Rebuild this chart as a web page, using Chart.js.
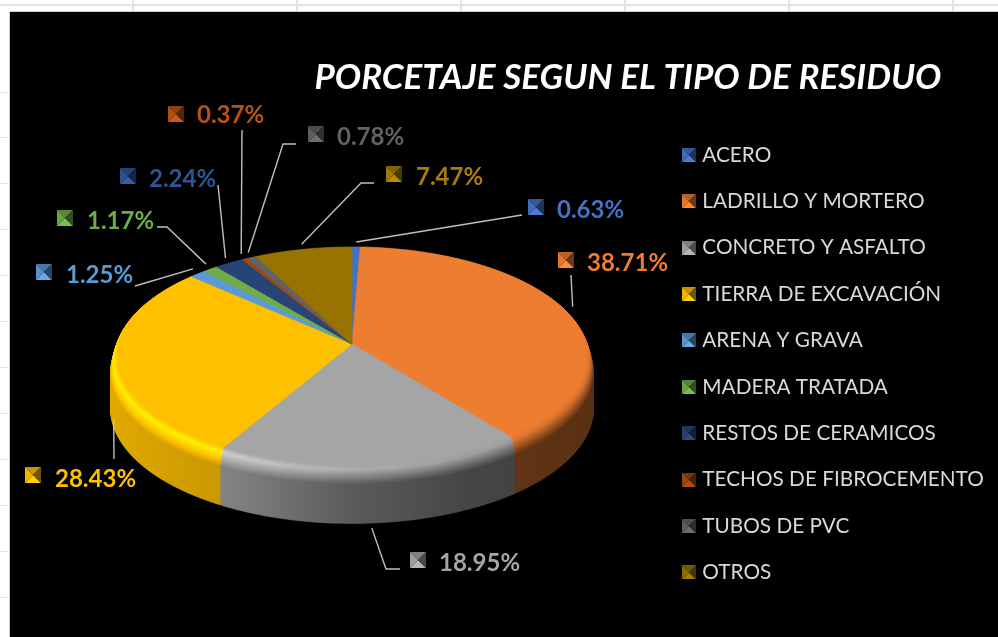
<!DOCTYPE html>
<html><head><meta charset="utf-8">
<style>
html,body{margin:0;padding:0;width:998px;height:637px;overflow:hidden;background:#fff}
#stage{position:absolute;left:10px;top:12px;width:988px;height:625px;background:#000;box-shadow:0 0 0 1px #cfcfcf}
canvas{display:block}
.g{position:absolute;background:#e3e3e3}
</style></head><body>
<div id="stage"><canvas id="c" width="988" height="625"></canvas></div>
<script src="https://cdn.jsdelivr.net/npm/chart.js@4"></script>
<script>
const categories=['ACERO','LADRILLO Y MORTERO','CONCRETO Y ASFALTO','TIERRA DE EXCAVACIÓN','ARENA Y GRAVA','MADERA TRATADA','RESTOS DE CERAMICOS','TECHOS DE FIBROCEMENTO','TUBOS DE PVC','OTROS'];
const values=[0.63,38.71,18.95,28.43,1.25,1.17,2.24,0.37,0.78,7.47];
const sliceColors=['#4472c4','#ed7d31','#a5a5a5','#ffc000','#5b9bd5','#70ad47','#264478','#9e480e','#636363','#997300'];
const labelColors=['#4472c4','#ed7d31','#a5a5a5','#ffc000','#5b9bd5','#70ad47','#2f5597','#b8540f','#636363','#a87f00'];
const chartTitle='PORCETAJE SEGUN EL TIPO DE RESIDUO';

// Label placement, canvas coordinates: marker left, marker centre y, text start, elbow point(s) of the leader
const labelLayout=[
 {mx:518,my:195,tx:547,ty:198,end:[[512,203]]},
 {mx:548,my:248,tx:577,ty:251,end:[[561,263]]},
 {mx:400,my:548,tx:429,ty:551,end:[[376,557],[390,557]]},
 {mx:15,my:463,tx:45,ty:467,end:[[104,447]]},
 {mx:26,my:260,tx:56,ty:263,end:[[125,274]]},
 {mx:47,my:206,tx:77,ty:209,end:[[157,215],[147,215]]},
 {mx:110,my:164,tx:139,ty:167,end:[[208,173]]},
 {mx:158,my:102,tx:187,ty:103,end:[[232,118]]},
 {mx:298,my:122,tx:327,ty:125,end:[[273,132],[286,132]]},
 {mx:376,my:162,tx:406,ty:165,end:[[351,171],[364,171]]}
];

// gridlines of the spreadsheet behind the chart
const gridX=[132,296,460,624,788,952];
const gridY=[92,137,183,229,275,321,367,413,459,505,551,597];
function gl(l,t,w,h){const d=document.createElement('div');d.className='g';d.style.cssText=`left:${l}px;top:${t}px;width:${w}px;height:${h}px`;document.body.insertBefore(d,document.body.firstChild);}
gridX.forEach(x=>gl(x,0,2,11));
gl(0,4,998,2);
gridY.forEach(y=>gl(0,y,9,1));

function rgb(hex){return [1,3,5].map(i=>parseInt(hex.substr(i,2),16));}
function css(c,f){return 'rgb('+c.map(v=>Math.min(255,Math.round(v*f))).join(',')+')';}

const RY=0.449,K=0.11,DEPTH=52,FLAT=0.97,BEVEL=0.33,LAYERS=70;
function project(arc,a,rx,off){
  const s=Math.cos(a),c=Math.sin(a),w=1-K*c,R=arc.outerRadius;
  return [arc.x+R*rx*s/w, arc.y+R*RY*c/w+off/w];
}
const stops=[0,.25,.5,.75,1],sideShade=[.88,.78,.55,.42,.38],hiShade=[1.25,1.25,1.05,.95,.9];

function marker(hex,size){
  const cv=document.createElement('canvas');cv.width=cv.height=size;
  const x=cv.getContext('2d'),c=rgb(hex),m=size/2;
  const tri=(p,f)=>{x.fillStyle=css(c,f);x.beginPath();p.forEach((q,i)=>i?x.lineTo(q[0],q[1]):x.moveTo(q[0],q[1]));x.closePath();x.fill();};
  tri([[0,0],[size,0],[m,m]],.78);
  tri([[0,size],[size,size],[m,m]],1.1);
  tri([[0,0],[0,size],[m,m]],.95);
  tri([[size,0],[size,size],[m,m]],.45);
  return cv;
}

const placement={id:'placement',afterLayout(chart){
  const t=chart.titleBlock;t.left=258;t.right=978;t.top=45;
  const l=chart.legend,w=l.width;l.left=650.3;l.right=650.3+w;l.top=106.8;l.bottom=106.8+l.height;
  chart.chartArea={left:102,right:582,top:92,bottom:572,width:480,height:480};
}};

const pie3d={id:'pie3d',beforeDatasetsDraw(chart){
  const ctx=chart.ctx,arcs=chart.getDatasetMeta(0).data;
  const a0=arcs[0],R=a0.outerRadius,L=a0.x-R;
  ctx.save();
  for(let i=LAYERS;i>=0;i--){
    const z=i/LAYERS,off=z*DEPTH;
    const rx=z>=BEVEL?1:FLAT+(1-FLAT)*Math.sqrt(z/BEVEL);
    arcs.forEach((arc,n)=>{
      const base=rgb(sliceColors[n]);
      let fill;
      if(z===0){fill=sliceColors[n];}
      else{
        const g=ctx.createLinearGradient(L,0,L+2*R,0);
        stops.forEach((u,k)=>{
          let f;
          if(z<.08)f=1+(hiShade[k]-1)*z/.08;
          else if(z<BEVEL)f=hiShade[k]+(sideShade[k]-hiShade[k])*(z-.08)/(BEVEL-.08);
          else f=sideShade[k];
          g.addColorStop(u,css(base,f));
        });
        fill=g;
      }
      ctx.fillStyle=fill;ctx.strokeStyle=fill;ctx.lineWidth=.6;
      ctx.beginPath();
      ctx.moveTo(arc.x,arc.y+off);
      const steps=Math.max(2,Math.ceil((arc.endAngle-arc.startAngle)/.02));
      for(let k=0;k<=steps;k++){
        const a=arc.startAngle+(arc.endAngle-arc.startAngle)*k/steps,p=project(arc,a,rx,off);
        ctx.lineTo(p[0],p[1]);
      }
      ctx.closePath();ctx.fill();ctx.stroke();
    });
  }
  ctx.restore();
  return false;
},
afterDraw(chart){
  const ctx=chart.ctx,arcs=chart.getDatasetMeta(0).data;
  ctx.save();
  arcs.forEach((arc,n)=>{
    const lay=labelLayout[n],mid=(arc.startAngle+arc.endAngle)/2;
    const front=Math.sin(mid)>0;
    const a=project(arc,mid,front?.988:1,front?DEPTH:0);
    const gap=5,dy=front?gap:-gap;
    ctx.strokeStyle='#bfbfbf';ctx.lineWidth=1.4;
    ctx.beginPath();ctx.moveTo(a[0],a[1]+dy);
    lay.end.forEach(p=>ctx.lineTo(p[0],p[1]));
    ctx.stroke();
    ctx.drawImage(marker(labelColors[n],16),lay.mx,lay.my-8);
    ctx.font='bold 24px Lato';ctx.fillStyle=labelColors[n];ctx.textBaseline='middle';ctx.textAlign='left';
    ctx.fillText(values[n].toFixed(2)+'%',lay.tx,lay.ty);
  });
  ctx.restore();
}};

new Chart(document.getElementById('c'),{
  type:'pie',
  data:{labels:categories,datasets:[{data:values,backgroundColor:sliceColors,borderWidth:0,radius:240}]},
  options:{
    responsive:false,animation:false,
    plugins:{
      title:{display:true,text:chartTitle,color:'#fff',padding:0,align:'center',font:{family:'Lato',size:35,weight:'bold',style:'italic'}},
      legend:{display:true,position:'right',align:'start',
        labels:{usePointStyle:true,boxWidth:6,boxHeight:6,padding:25.65,color:'#d9d9d9',font:{family:'Lato',size:20.75},
          generateLabels:c=>c.data.labels.map((t,i)=>({text:t,fontColor:'#d9d9d9',pointStyle:marker(sliceColors[i],14),fillStyle:sliceColors[i],strokeStyle:sliceColors[i],lineWidth:0,index:i,hidden:false}))}},
      tooltip:{enabled:false}
    }
  },
  plugins:[placement,pie3d]
});
</script>
</body></html>
